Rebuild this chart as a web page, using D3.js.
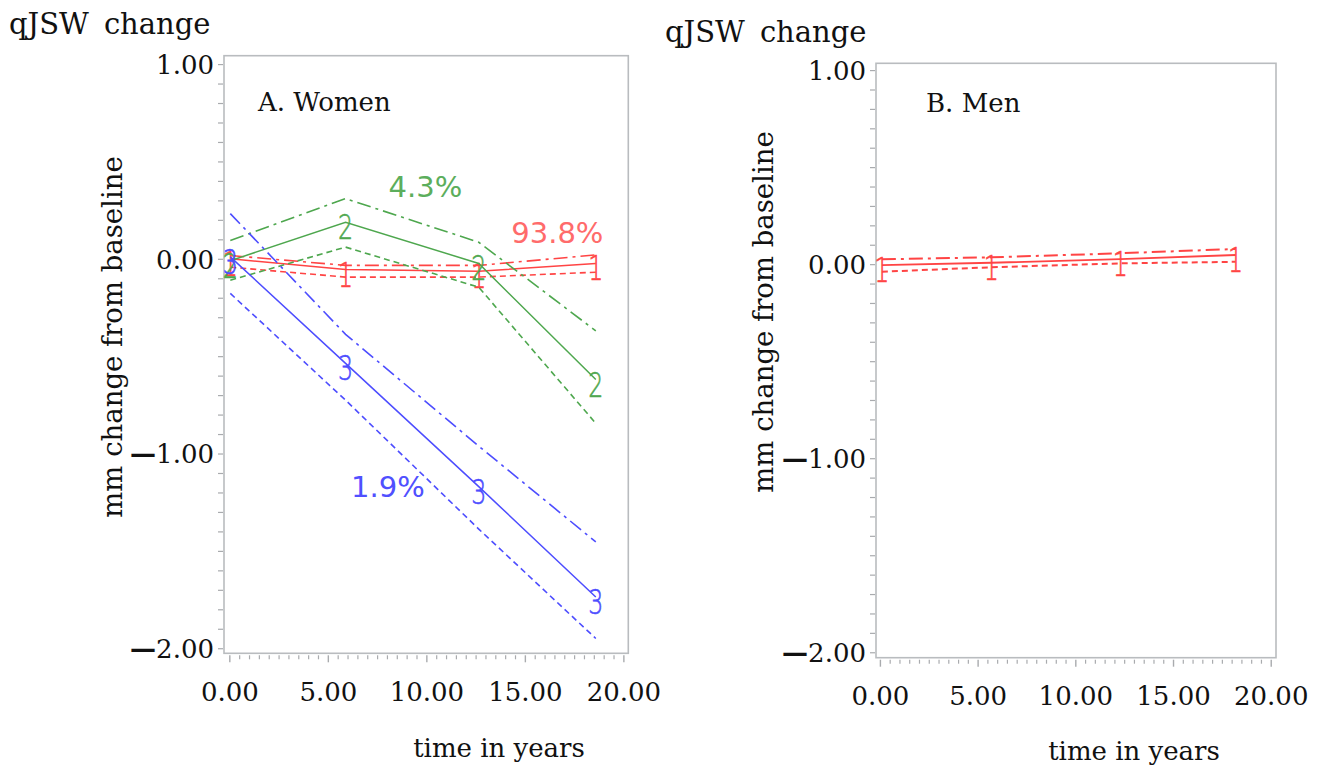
<!DOCTYPE html>
<html>
<head>
<meta charset="utf-8">
<script src="https://cdn.jsdelivr.net/npm/d3@7"></script>
<style>
  html, body { margin: 0; padding: 0; background: #fff; }
  svg { display: block; }
</style>
</head>
<body>
<svg id="chart" width="1326" height="768"></svg>
<script>
// ---------------- DATA ----------------
const yTickValues = [1, 0, -1, -2];
const yTickLabels = ["1.00", "0.00", "\u22121.00", "\u22122.00"];
const xTickValues = [0, 5, 10, 15, 20];
const xTickLabels = ["0.00", "5.00", "10.00", "15.00", "20.00"];

// Women (panel A)
const womenTimes = [0.05, 5.9, 12.66, 18.6];
const womenClass1Mean  = [0.0, -0.055, -0.064, -0.024];
const womenClass1Upper = [0.017, -0.034, -0.034, 0.02];
const womenClass1Lower = [-0.043, -0.094, -0.094, -0.069];
const womenClass2Mean  = [-0.01, 0.188, -0.024, -0.62];
const womenClass2Upper = [0.094, 0.309, 0.085, -0.37];
const womenClass2Lower = [-0.11, 0.06, -0.146, -0.845];
const womenClass3Mean  = [0.01, -0.537, -1.17, -1.737];
const womenClass3Upper = [0.232, -0.388, -0.962, -1.454];
const womenClass3Lower = [-0.178, -0.726, -1.388, -1.95];

// Men (panel B)
const menTimes = [0.1, 5.7, 12.3, 18.2];
const menClass1Mean  = [-0.005, 0.007, 0.026, 0.047];
const menClass1Upper = [0.025, 0.035, 0.056, 0.078];
const menClass1Lower = [-0.039, -0.016, 0.004, 0.012];

// class share labels (women)
const classShareText = ["93.8%", "4.3%", "1.9%"];
const classShareX = [16.65, 9.95, 8.05];
const classShareY = [0.082, 0.315, -1.225];

const panelTitles = ["A. Women", "B. Men"];
const yAxisTitle = "mm change from baseline";
const xAxisTitle = "time in years";

// ---------------- STYLE ----------------
const colors = {
  1: { line: "#ff4444", text: "#ff6b6b" },
  2: { line: "#4ea74e", text: "#5cae5c" },
  3: { line: "#4d4dff", text: "#5050ff" }
};
const serif = "'DejaVu Serif', 'Liberation Serif', serif";
const sans = "'DejaVu Sans', 'Noto Sans', sans-serif";

const svg = d3.select("#chart");

function drawPanel(cfg) {
  const x = d3.scaleLinear().domain(cfg.xDomain).range(cfg.xRange);
  const y = d3.scaleLinear().domain(cfg.yDomain).range(cfg.yRange);
  const g = svg.append("g");

  const [fx0, fx1] = cfg.xRange;
  const [fy0, fy1] = cfg.yRange; // fy0 bottom, fy1 top

  // frame
  g.append("rect")
    .attr("x", fx0).attr("y", fy1)
    .attr("width", fx1 - fx0).attr("height", fy0 - fy1)
    .attr("fill", "none").attr("stroke", "#b9bcbf").attr("stroke-width", 1.6);

  // y minor ticks
  const yMinor = d3.range(-20, 11).map(d => d / 10);
  const yAxisMinor = d3.axisLeft(y).tickValues(yMinor).tickSize(5).tickFormat("");
  const ya = g.append("g").attr("transform", `translate(${fx0 - 1},0)`).call(yAxisMinor);
  ya.select(".domain").remove();
  ya.selectAll("line").attr("stroke", "#a9abae").attr("stroke-width", 1.2);

  // y labels
  const yAxisLab = d3.axisLeft(y).tickValues(yTickValues).tickSize(0).tickPadding(10)
    .tickFormat((d, i) => yTickLabels[i]);
  const yl = g.append("g").attr("transform", `translate(${fx0},0)`).call(yAxisLab);
  yl.select(".domain").remove();
  yl.selectAll("text")
    .attr("font-family", serif).attr("font-size", 26).attr("fill", "#111")
    .attr("dy", "0.36em")
    .each(function(d, i) {
      const t = d3.select(this);
      const s = yTickLabels[i];
      if (s.startsWith("\u2212")) {
        t.text(null);
        t.append("tspan").attr("font-weight", "bold").attr("font-family", sans).text("\u2014");
        t.append("tspan").text(s.slice(1));
      }
    });

  // x minor + major ticks
  const xMinor = d3.range(0, 41).map(d => d / 2).filter(d => d % 5 !== 0);
  const xAxisMinor = d3.axisBottom(x).tickValues(xMinor).tickSize(4).tickFormat("");
  const xm = g.append("g").attr("transform", `translate(0,${fy0 + 2})`).call(xAxisMinor);
  xm.select(".domain").remove();
  xm.selectAll("line").attr("stroke", "#a9abae").attr("stroke-width", 1.2);

  const xAxisMajor = d3.axisBottom(x).tickValues(xTickValues).tickSize(7).tickPadding(20)
    .tickFormat((d, i) => xTickLabels[i]);
  const xM = g.append("g").attr("transform", `translate(0,${fy0 + 2})`).call(xAxisMajor);
  xM.select(".domain").remove();
  xM.selectAll("line").attr("stroke", "#a9abae").attr("stroke-width", 1.4);
  xM.selectAll("text")
    .attr("font-family", serif).attr("font-size", 26).attr("fill", "#111")
    .attr("dy", "0.71em");

  // titles
  g.append("text").attr("x", cfg.qx).attr("y", cfg.qy)
    .attr("font-family", serif).attr("font-size", 29).attr("fill", "#111")
    .call(t => { t.append("tspan").text("qJSW"); t.append("tspan").attr("dx", 15).text("change"); });

  g.append("text").attr("x", cfg.titleX).attr("y", cfg.titleY)
    .attr("font-family", serif).attr("font-size", 26).attr("fill", "#111")
    .text(cfg.title);

  g.append("text")
    .attr("transform", `translate(${cfg.ytX},${cfg.ytY}) rotate(-90)`)
    .attr("text-anchor", "middle")
    .attr("font-family", serif).attr("font-size", 27.5).attr("fill", "#111")
    .text(yAxisTitle);

  g.append("text").attr("x", cfg.xtX).attr("y", cfg.xtY)
    .attr("text-anchor", "middle")
    .attr("font-family", serif).attr("font-size", 26).attr("fill", "#111")
    .text(xAxisTitle);

  // series
  const line = d3.line().x(d => x(d[0])).y(d => y(d[1]));
  cfg.series.forEach(s => {
    const col = colors[s.cls].line;
    const mk = (vals, dash, w) => {
      g.append("path")
        .datum(s.times.map((t, i) => [t, vals[i]]))
        .attr("d", line)
        .attr("fill", "none").attr("stroke", col)
        .attr("stroke-width", w)
        .attr("stroke-dasharray", dash);
    };
    mk(s.upper, "14,5,3,5", cfg.lw);
    mk(s.lower, "6,4", cfg.lw);
    mk(s.mean, null, cfg.lw - 0.1);
    // markers
    g.selectAll(null).data(s.times.map((t, i) => [t, s.mean[i]])).enter()
      .append("text")
      .attr("transform", d => `translate(${x(d[0])},${y(d[1]) + 17}) scale(0.72,1)`)
      .attr("text-anchor", "middle")
      .attr("font-family", sans).attr("font-weight", 200).attr("font-size", 33)
      .attr("fill", col).attr("stroke", col).attr("stroke-width", 0.6)
      .text(String(s.cls));
  });

  // labels
  (cfg.shares || []).forEach(sh => {
    g.append("text")
      .attr("x", x(sh.x)).attr("y", y(sh.y))
      .attr("text-anchor", "middle")
      .attr("font-family", sans).attr("font-size", 29)
      .attr("fill", colors[sh.cls].text)
      .text(sh.text);
  });
}

drawPanel({
  xDomain: [-0.27, 20.25], xRange: [224, 628.3],
  yDomain: [-2.026, 1.043], yRange: [653.3, 55.7],
  qx: 9, qy: 34, title: panelTitles[0], titleX: 258, titleY: 111,
  ytX: 122, ytY: 337, xtX: 499, xtY: 757, lw: 1.6,
  series: [
    { cls: 1, times: womenTimes, mean: womenClass1Mean, upper: womenClass1Upper, lower: womenClass1Lower },
    { cls: 2, times: womenTimes, mean: womenClass2Mean, upper: womenClass2Upper, lower: womenClass2Lower },
    { cls: 3, times: womenTimes, mean: womenClass3Mean, upper: womenClass3Upper, lower: womenClass3Lower }
  ],
  shares: classShareText.map((t, i) => ({ text: t, x: classShareX[i], y: classShareY[i], cls: i + 1 }))
});

drawPanel({
  xDomain: [-0.2, 20.27], xRange: [876, 1276],
  yDomain: [-2.028, 1.035], yRange: [657.7, 63.3],
  qx: 665, qy: 42, title: panelTitles[1], titleX: 926, titleY: 112,
  ytX: 773, ytY: 312, xtX: 1134, xtY: 760, lw: 2,
  series: [
    { cls: 1, times: menTimes, mean: menClass1Mean, upper: menClass1Upper, lower: menClass1Lower }
  ]
});
</script>
</body>
</html>
